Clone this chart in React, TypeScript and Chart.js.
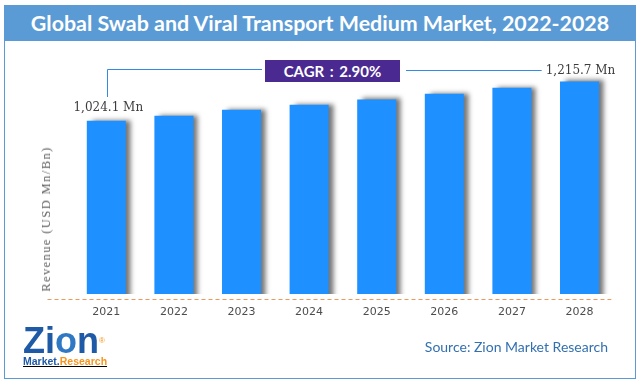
import React, { useEffect, useRef } from 'react';
import { Chart, registerables } from 'chart.js';

Chart.register(...registerables);

// ---- data ----
const years = ['2021', '2022', '2023', '2024', '2025', '2026', '2027', '2028'];
const revenue = [1024.1, 1049, 1078, 1102, 1128, 1156, 1185, 1215.7];
const endLabels = ['1,024.1 Mn', '1,215.7 Mn'];
const titleText = 'Global Swab and Viral Transport Medium Market, 2022-2028';
const cagrText = 'CAGR : 2.90%';
const yAxisTitle = 'Revenue (USD Mn/Bn)';
const sourceText = 'Source: Zion Market Research';
const yRange = [180, 1320];

// ---- layout constants ----
const W = 639;
const H = 385;
const CAGR_BOX = { left: 265, top: 60, width: 135, height: 22 };
const BLUE_LINE = '#2f8be4';

const shadowPlugin = {
  id: 'barShadow',
  beforeDatasetsDraw(chart: any) {
    const ctx = chart.ctx;
    ctx.save();
    ctx.shadowColor = 'rgba(0,0,0,0.55)';
    ctx.shadowOffsetX = 5;
    ctx.shadowOffsetY = -1;
    ctx.shadowBlur = 5;
  },
  afterDatasetsDraw(chart: any) {
    chart.ctx.restore();
  },
};

const annotationPlugin = {
  id: 'annot',
  afterDraw(chart: any) {
    const ctx = chart.ctx;
    const area = chart.chartArea;
    const meta = chart.getDatasetMeta(0);
    const first = meta.data[0];
    const last = meta.data[meta.data.length - 1];

    // dashed baseline
    ctx.save();
    ctx.strokeStyle = '#f0975a';
    ctx.lineWidth = 1;
    ctx.setLineDash([4, 3]);
    ctx.beginPath();
    const by = Math.round(area.bottom + 5) + 0.5;
    ctx.moveTo(area.left - 25, by);
    ctx.lineTo(area.right - 2, by);
    ctx.stroke();
    ctx.restore();

    // value labels
    ctx.save();
    ctx.font = '12px "DejaVu Serif"';
    ctx.fillStyle = '#3d3d3d';
    ctx.textAlign = 'center';
    ctx.textBaseline = 'middle';
    const l1y = first.y - 13;
    const l2y = last.y - 11;
    ctx.fillText(endLabels[0], first.x + 2, l1y);
    ctx.fillText(endLabels[1], last.x + 1, l2y);
    const w2 = ctx.measureText(endLabels[1]).width;
    ctx.restore();

    // connector lines
    ctx.save();
    ctx.strokeStyle = BLUE_LINE;
    ctx.lineWidth = 1;
    ctx.beginPath();
    const vx = Math.round(first.x + 1) + 0.5;
    const ly = Math.round(l2y) - 0.5;
    ctx.moveTo(vx, Math.round(l1y - 11));
    ctx.lineTo(vx, ly);
    ctx.lineTo(CAGR_BOX.left - 3, ly);
    ctx.moveTo(CAGR_BOX.left + CAGR_BOX.width + 6, ly + 1);
    ctx.lineTo(last.x + 1 - w2 / 2 - 4, ly + 1);
    ctx.stroke();
    ctx.restore();
  },
};

export default function App() {
  const canvasRef = useRef<HTMLCanvasElement | null>(null);

  useEffect(() => {
    if (!canvasRef.current) return;
    const chart = new Chart(canvasRef.current, {
      type: 'bar',
      data: {
        labels: years,
        datasets: [
          {
            data: revenue,
            backgroundColor: '#1e90ff',
            borderWidth: 0,
            categoryPercentage: 1,
            barPercentage: 0.577,
          },
        ],
      },
      options: {
        animation: false,
        responsive: false,
        devicePixelRatio: 1,
        layout: { padding: { left: 72.5, right: 25.7, top: 60, bottom: 54.8 } },
        plugins: {
          legend: { display: false },
          tooltip: { enabled: false },
          title: { display: false },
        },
        scales: {
          x: {
            grid: { display: false, drawTicks: false },
            border: { display: false },
            ticks: {
              color: '#4d4d4d',
              font: { family: '"DejaVu Sans"', size: 11 },
              padding: 11.5,
            },
          },
          y: {
            display: false,
            min: yRange[0],
            max: yRange[1],
          },
        },
      },
      plugins: [shadowPlugin, annotationPlugin],
    } as any);
    return () => chart.destroy();
  }, []);

  return (
    <div
      style={{
        position: 'absolute',
        left: 0,
        top: 0,
        width: W,
        height: H,
        background: '#ffffff',
        overflow: 'hidden',
      }}
    >
      <div
        style={{
          position: 'absolute',
          left: 4,
          top: 5,
          width: 630,
          height: 372,
          border: '1px solid #5b9bd5',
        }}
      />
      <div
        style={{
          position: 'absolute',
          left: 4,
          top: 5,
          width: 632,
          height: 36,
          background: '#5b9bd5',
          color: '#ffffff',
          display: 'flex',
          alignItems: 'center',
          justifyContent: 'center',
          fontFamily: 'Lato, sans-serif',
          fontWeight: 700,
          fontSize: 21.4,
          whiteSpace: 'nowrap',
        }}
      >
        {titleText}
      </div>
      <canvas
        ref={canvasRef}
        width={W}
        height={H}
        style={{ position: 'absolute', left: 0, top: 0, width: W, height: H }}
      />
      <div
        style={{
          position: 'absolute',
          left: 45.7,
          top: 219,
          transform: 'translate(-50%, -50%) rotate(-90deg)',
          fontFamily: '"Liberation Serif", serif',
          fontSize: 12.5,
          letterSpacing: 1.4,
          color: '#5f5f5f',
          whiteSpace: 'nowrap',
          lineHeight: '14px',
        }}
      >
        {yAxisTitle}
      </div>
      <div
        style={{
          position: 'absolute',
          left: CAGR_BOX.left,
          top: CAGR_BOX.top,
          width: CAGR_BOX.width,
          height: CAGR_BOX.height,
          background: '#4a2a91',
          color: '#ffffff',
          display: 'flex',
          alignItems: 'center',
          justifyContent: 'center',
          fontFamily: 'Lato, sans-serif',
          fontWeight: 700,
          fontSize: 15,
          wordSpacing: 2,
          whiteSpace: 'nowrap',
        }}
      >
        {cagrText}
      </div>
      <div
        style={{
          position: 'absolute',
          right: W - 608,
          top: 338,
          fontFamily: 'Lato, sans-serif',
          fontSize: 14,
          color: '#3370b0',
          whiteSpace: 'nowrap',
          lineHeight: '18px',
        }}
      >
        {sourceText}
      </div>
      <div style={{ position: 'absolute', left: 23, top: 324, width: 95 }}>
        <div
          style={{
            fontFamily: '"Liberation Sans", Arial, sans-serif',
            fontWeight: 700,
            fontSize: 36,
            lineHeight: '33px',
            letterSpacing: 0,
            color: '#1f5aa6',
            whiteSpace: 'nowrap',
          }}
        >
          <span>Z</span>
          <span style={{ color: '#1f5aa6' }}>i</span>
          <span style={{ color: '#2f78c4' }}>o</span>
          <span>n</span>
          <span style={{ fontSize: 8, verticalAlign: 'top', color: '#f7941d', fontWeight: 400 }}>®</span>
        </div>
        <div
          style={{
            fontFamily: '"Liberation Sans", Arial, sans-serif',
            fontWeight: 700,
            fontSize: 10.5,
            lineHeight: '11px',
            whiteSpace: 'nowrap',
            textDecoration: 'underline',
            marginTop: -1,
          }}
        >
          <span style={{ color: '#1f5aa6' }}>Market.</span>
          <span style={{ color: '#f7941d' }}>Research</span>
        </div>
      </div>
    </div>
  );
}
